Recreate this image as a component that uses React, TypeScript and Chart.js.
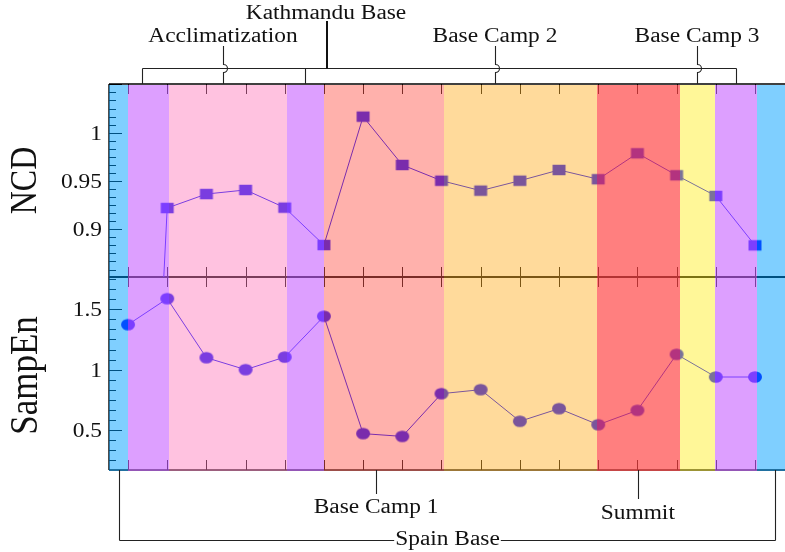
import React, { useEffect, useRef } from 'react';
import { Chart, registerables } from 'chart.js';
Chart.register(...registerables);

// ---------- data ----------
const stages = [0, 1, 2, 3, 4, 5, 6, 7, 8, 9, 10, 11, 12, 13, 14, 15, 16];
const ncdValues = [0.1, 0.922, 0.9365, 0.9407, 0.9224, 0.8837, 1.0166, 0.9666, 0.9503, 0.94, 0.9503, 0.9614, 0.9518, 0.9787, 0.9559, 0.9345, 0.8834];
const sampEnValues = [1.373, 1.588, 1.099, 1.0, 1.104, 1.442, 0.47, 0.447, 0.801, 0.834, 0.572, 0.677, 0.544, 0.663, 1.127, 0.939, 0.939];

const ncdTickValues = [0.9, 0.95, 1];
const ncdTickLabels = ['0.9', '0.95', '1'];
const sampEnTickValues = [0.5, 1, 1.5];
const sampEnTickLabels = ['0.5', '1', '1.5'];

// interior band boundaries (stage units) and band colours (left to right)
const bandEdges = [0, 1.04, 4.05, 4.99, 8.06, 11.98, 14.08, 14.98, 16.05];
const BLUE = 'rgba(0,160,255,0.5)';
const PURPLE = 'rgba(200,100,255,0.62)';
const PINK = 'rgba(255,128,190,0.48)';
const SALMON = 'rgba(255,92,82,0.48)';
const ORANGE = 'rgba(255,178,45,0.48)';
const RED = 'rgba(255,72,72,0.7)';
const YELLOW = 'rgba(255,238,40,0.48)';
const bandColors = [BLUE, PURPLE, PINK, PURPLE, SALMON, ORANGE, RED, YELLOW, PURPLE, BLUE];

// annotations (positions in stage units)
const topPins = [
  { label: 'Acclimatization', at: 2.424 },
  { label: 'Base Camp 2', at: 9.365 },
  { label: 'Base Camp 3', at: 14.52 },
];
const topBracketLegs = [0.357, 4.517, 15.515];
const kathmandu = { label: 'Kathmandu Base', at: 5.078 };
const bottomPins = [
  { label: 'Base Camp 1', at: 6.33, lineEnd: 494, baseline: 513 },
  { label: 'Summit', at: 13.01, lineEnd: 499, baseline: 519 },
];
const spainBracket = { label: 'Spain Base', from: -0.23, to: 16.51 };

const X_MIN = -0.485;
const X_MAX = 16.766;
const NCD_MIN = 0.8506, NCD_MAX = 1.0504, NCD_MAJOR = 0.05;
const SE_MIN = 0.1686, SE_MAX = 1.7676, SE_MAJOR = 0.5;
const MINOR_DIV = 6;

const FONT = '"Liberation Serif", "Times New Roman", serif';
const SX = 1.17;

function txt(ctx: CanvasRenderingContext2D, s: string, x: number, y: number, size: number, align: CanvasTextAlign = 'center', baseline: CanvasTextBaseline = 'alphabetic') {
  ctx.save();
  ctx.translate(x, y);
  ctx.scale(SX, 1);
  ctx.font = `${size}px ${FONT}`;
  ctx.textAlign = align;
  ctx.textBaseline = baseline;
  ctx.fillStyle = '#111';
  ctx.fillText(s, 0, 0);
  ctx.restore();
}

function seg(ctx: CanvasRenderingContext2D, x1: number, y1: number, x2: number, y2: number) {
  ctx.beginPath();
  ctx.moveTo(x1, y1);
  ctx.lineTo(x2, y2);
  ctx.stroke();
}

function makeMarker(kind: 'square' | 'circle') {
  const c = document.createElement('canvas');
  const w = kind === 'square' ? 13 : 14;
  const h = kind === 'square' ? 10.5 : 11.7;
  c.width = 16;
  c.height = 14;
  const g = c.getContext('2d')!;
  g.fillStyle = '#0000ff';
  g.beginPath();
  if (kind === 'square') g.rect((16 - w) / 2, (14 - h) / 2, w, h);
  else g.ellipse(8, 7, w / 2, h / 2, 0, 0, Math.PI * 2);
  g.fill();
  return c;
}

const panelPlugin = {
  id: 'panelPlugin',
  beforeDatasetsDraw(chart: any) {
    const { ctx, chartArea: a, scales } = chart;
    const x = scales.x, yN = scales.yNCD, yS = scales.ySamp;
    ctx.save();
    ctx.strokeStyle = '#000';
    ctx.lineWidth = 1.4;
    seg(ctx, a.left, a.top, a.left, a.bottom);
    ctx.lineWidth = 1.8;
    seg(ctx, a.left, yN.bottom, a.right, yN.bottom);
    ctx.lineWidth = 1.4;
    seg(ctx, a.left, a.bottom, a.right, a.bottom);
    ctx.lineWidth = 1;
    for (const v of stages) {
      const px = Math.round(x.getPixelForValue(v)) + 0.5;
      seg(ctx, px, yN.top, px, yN.top + 10);
      seg(ctx, px, yN.bottom, px, yN.bottom - 10);
      seg(ctx, px, yS.top, px, yS.top + 10);
      seg(ctx, px, yS.bottom, px, yS.bottom - 10);
    }
    const yTicks = (sc: any, min: number, max: number, major: number) => {
      const step = major / MINOR_DIV;
      for (let k = Math.ceil(min / step - 1e-6); k * step <= max + 1e-9; k++) {
        const py = Math.round(sc.getPixelForValue(k * step)) + 0.5;
        const len = k % MINOR_DIV === 0 ? 13 : 7;
        seg(ctx, a.left, py, a.left + len, py);
      }
    };
    yTicks(yN, NCD_MIN, NCD_MAX, NCD_MAJOR);
    yTicks(yS, SE_MIN, SE_MAX, SE_MAJOR);
    ctx.restore();
  },
  beforeDatasetDraw(chart: any, args: any) {
    const { ctx, chartArea: a } = chart;
    const ys = args.meta.yScale;
    ctx.save();
    ctx.beginPath();
    ctx.rect(a.left, ys.top, a.right - a.left, ys.bottom - ys.top);
    ctx.clip();
  },
  afterDatasetDraw(chart: any) {
    chart.ctx.restore();
  },
  afterDatasetsDraw(chart: any) {
    const { ctx, chartArea: a, scales } = chart;
    const x = scales.x, yN = scales.yNCD, yS = scales.ySamp;
    const px = (v: number) => x.getPixelForValue(v);
    ctx.save();
    // bands (overlay)
    const edges = [a.left, ...bandEdges.map((v) => Math.round(px(v))), a.right];
    for (let i = 0; i < bandColors.length; i++) {
      ctx.fillStyle = bandColors[i];
      ctx.fillRect(edges[i], a.top + 1, edges[i + 1] - edges[i], a.bottom - a.top);
    }
    // top border
    ctx.strokeStyle = '#000';
    ctx.lineWidth = 1.5;
    seg(ctx, a.left, a.top, a.right, a.top);

    // tick labels
    ncdTickValues.forEach((v, i) => txt(ctx, ncdTickLabels[i], 102, yN.getPixelForValue(v) + 7, 20, 'right'));
    sampEnTickValues.forEach((v, i) => txt(ctx, sampEnTickLabels[i], 102, yS.getPixelForValue(v) + 7, 20, 'right'));

    // axis titles
    const title = (s: string, cx: number, cy: number, size: number) => {
      ctx.save();
      ctx.translate(cx, cy);
      ctx.rotate(-Math.PI / 2);
      ctx.scale(1, SX);
      ctx.font = `${size}px ${FONT}`;
      ctx.textAlign = 'center';
      ctx.textBaseline = 'middle';
      ctx.fillStyle = '#111';
      ctx.fillText(s, 0, 0);
      ctx.restore();
    };
    title('NCD', 26, (yN.top + yN.bottom) / 2, 32);
    title('SampEn', 26, (yS.top + yS.bottom) / 2 + 2, 35);

    // top annotations
    const bracketY = 68.5;
    ctx.strokeStyle = '#222';
    ctx.lineWidth = 1.1;
    const legs = topBracketLegs.map((v) => Math.round(px(v)) + 0.5);
    seg(ctx, legs[0], bracketY, legs[legs.length - 1], bracketY);
    legs.forEach((lx) => seg(ctx, lx, bracketY, lx, a.top));
    for (const p of topPins) {
      const lx = Math.round(px(p.at)) + 0.5;
      ctx.beginPath();
      ctx.moveTo(lx, 46);
      ctx.lineTo(lx, bracketY - 4);
      ctx.arc(lx, bracketY, 4, -Math.PI / 2, Math.PI / 2, false);
      ctx.lineTo(lx, a.top);
      ctx.stroke();
      txt(ctx, p.label, px(p.at), 41.5, 20);
    }
    ctx.lineWidth = 2;
    ctx.strokeStyle = '#111';
    const kx = Math.round(px(kathmandu.at));
    seg(ctx, kx, 21, kx, bracketY);
    txt(ctx, kathmandu.label, kx - 1, 18.5, 20);

    // bottom annotations
    ctx.lineWidth = 1.1;
    ctx.strokeStyle = '#222';
    for (const p of bottomPins) {
      const lx = Math.round(px(p.at)) + 0.5;
      seg(ctx, lx, a.bottom, lx, p.lineEnd);
      txt(ctx, p.label, px(p.at), p.baseline, 20);
    }
    const sy = 540.5;
    const sl = Math.round(px(spainBracket.from)) + 0.5;
    const sr = Math.round(px(spainBracket.to)) + 0.5;
    seg(ctx, sl, a.bottom, sl, sy);
    seg(ctx, sr, a.bottom, sr, sy);
    seg(ctx, sl, sy, sr, sy);
    const cx = (sl + sr) / 2;
    ctx.font = `20px ${FONT}`;
    const w = ctx.measureText(spainBracket.label).width * SX;
    ctx.fillStyle = '#fff';
    ctx.fillRect(cx - w / 2 - 1, sy - 6, w + 2, 12);
    txt(ctx, spainBracket.label, cx, 545, 20);
    ctx.restore();
  },
};

export default function App() {
  const ref = useRef<HTMLCanvasElement | null>(null);
  useEffect(() => {
    if (!ref.current) return;
    const square = makeMarker('square');
    const circle = makeMarker('circle');
    const chart = new Chart(ref.current, {
      type: 'line',
      data: {
        datasets: [
          {
            label: 'NCD',
            data: stages.map((s, i) => ({ x: s, y: ncdValues[i] })),
            yAxisID: 'yNCD',
            borderColor: '#0000ff',
            borderWidth: 1,
            pointStyle: square as any,
            pointRadius: 6,
            tension: 0,
          },
          {
            label: 'SampEn',
            data: stages.map((s, i) => ({ x: s, y: sampEnValues[i] })),
            yAxisID: 'ySamp',
            borderColor: '#0000ff',
            borderWidth: 1,
            pointStyle: circle as any,
            pointRadius: 6,
            tension: 0,
          },
        ],
      },
      options: {
        animation: false,
        responsive: false,
        devicePixelRatio: 1,
        layout: { autoPadding: false, padding: { left: 109, right: 0, top: 84, bottom: 82 } },
        plugins: { legend: { display: false }, tooltip: { enabled: false } },
        events: [],
        scales: {
          x: { type: 'linear', min: X_MIN, max: X_MAX, display: false },
          yNCD: { type: 'linear', position: 'left', stack: 'panels', stackWeight: 1, weight: 2, min: NCD_MIN, max: NCD_MAX, display: false },
          ySamp: { type: 'linear', position: 'left', stack: 'panels', stackWeight: 1, weight: 1, min: SE_MIN, max: SE_MAX, display: false },
        },
      } as any,
      plugins: [panelPlugin],
    });
    return () => chart.destroy();
  }, []);
  return (
    <div style={{ position: 'fixed', left: 0, top: 0, width: 785, height: 552, background: '#fff' }}>
      <canvas ref={ref} width={785} height={552} style={{ display: 'block' }} />
    </div>
  );
}
